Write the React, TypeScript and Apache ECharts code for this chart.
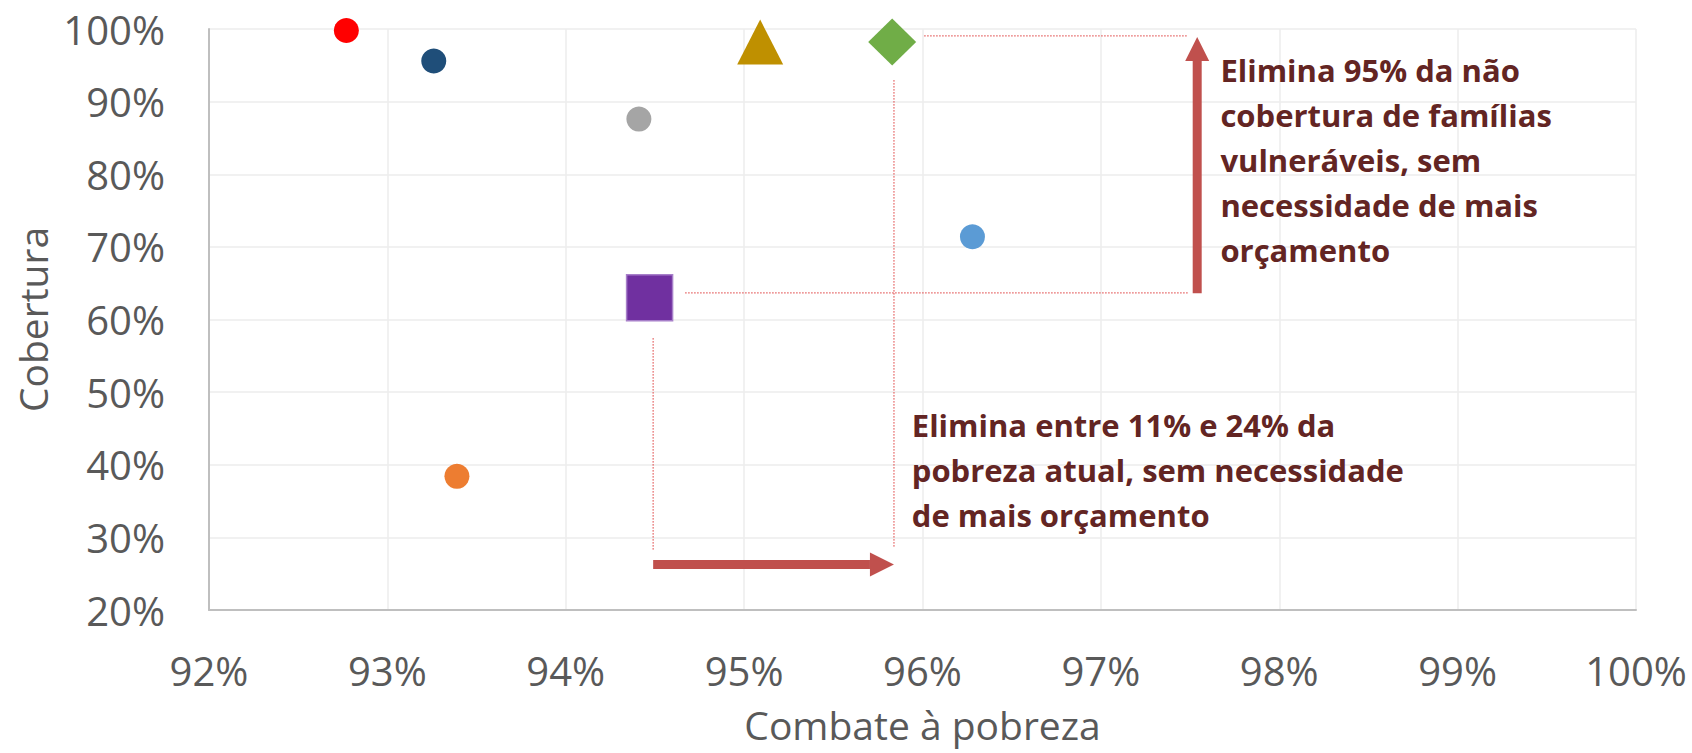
import React, { useEffect, useRef } from "react";
import * as echarts from "echarts";

// ---- Data (values in %) ----
const pointNames = ["Série 1", "Série 2", "Série 3", "Série 4", "Série 5", "Série 6", "Série 7", "Série 8"];
const combate = [92.77, 93.26, 94.41, 95.09, 95.83, 96.28, 94.47, 93.39];
const cobertura = [99.8, 95.6, 87.6, 98.2, 98.2, 71.4, 63.0, 38.4];

const xTicks = { min: 92, max: 100, step: 1 };
const yTicks = { min: 20, max: 100, step: 10 };

const xTitle = "Combate à pobreza";
const yTitle = "Cobertura";

// annotation geometry in data units
const arrowUp = [[97.54, 63.6], [97.54, 98.9]];
const arrowRight = [[94.49, 26.26], [95.84, 26.26]];
const guides = [
  [[94.67, 63.67], [97.49, 63.67]],
  [[96.01, 99.06], [97.49, 99.06]],
  [[95.84, 92.94], [95.84, 28.53]],
  [[94.49, 57.43], [94.49, 28.25]],
];
const note1Lines = [
  "Elimina 95% da não",
  "cobertura de famílias",
  "vulneráveis, sem",
  "necessidade de mais",
  "orçamento",
];
const note1At = [97.67, 97.41];
const note2Lines = [
  "Elimina entre 11% e 24% da",
  "pobreza atual, sem necessidade",
  "de mais orçamento",
];
const note2At = [95.94, 48.56];

// ---- Styles ----
const colors = ["#ff0000", "#1f4e79", "#a5a5a5", "#bf9000", "#70ad47", "#5b9bd5", "#7030a0", "#ed7d31"];
const symbols = ["circle", "circle", "circle", "triangle", "diamond", "circle", "rect", "circle"];
const symbolSizes: any[] = [25, 25, 25, [46, 45], [48, 47], 25, 46, 25];

const FONT = '"Open Sans", "Liberation Sans", sans-serif';
const labelColor = "#595959";

export default function App() {
  const ref = useRef<HTMLDivElement>(null);
  useEffect(() => {
    document.body.style.margin = "0";
    const chart = echarts.init(ref.current!, null, { renderer: "svg" });
    chart.setOption({
      animation: false,
      grid: { left: 209, right: 56, top: 29, bottom: 143 },
      xAxis: {
        type: "value",
        min: xTicks.min,
        max: xTicks.max,
        interval: xTicks.step,
        name: xTitle,
        nameLocation: "middle",
        nameGap: 95,
        nameTextStyle: { fontFamily: FONT, fontSize: 39, color: labelColor },
        axisLine: { show: true, onZero: false, lineStyle: { color: "#bfbfbf", width: 2 } },
        axisTick: { show: false },
        axisLabel: {
          formatter: (v: number) => `${v}%`,
          fontFamily: FONT,
          fontSize: 40,
          color: labelColor,
          margin: 40,
        },
        splitLine: { show: true, lineStyle: { color: "#ececec", width: 1.5 } },
      },
      yAxis: {
        type: "value",
        min: yTicks.min,
        max: yTicks.max,
        interval: yTicks.step,
        name: yTitle,
        nameLocation: "middle",
        nameGap: 155,
        nameTextStyle: { fontFamily: FONT, fontSize: 39, color: labelColor },
        axisLine: { show: true, onZero: false, lineStyle: { color: "#bfbfbf", width: 2 } },
        axisTick: { show: false },
        axisLabel: {
          formatter: (v: number) => `${v}%`,
          fontFamily: FONT,
          fontSize: 40,
          color: labelColor,
          margin: 44,
        },
        splitLine: { show: true, lineStyle: { color: "#ececec", width: 1.5 } },
      },
      series: pointNames.map((name, i) => ({
        name,
        type: "scatter",
        symbol: symbols[i],
        symbolSize: symbolSizes[i],
        itemStyle: {
          color: colors[i],
          borderColor: i === 6 ? "#a77fc9" : colors[i],
          borderWidth: i === 6 ? 1.5 : 0,
          opacity: 1,
        },
        z: 3,
        data: [[combate[i], cobertura[i]]],
      })),
    });

    const px = (p: number[]) => chart.convertToPixel({ gridIndex: 0 }, p) as number[];
    const graphics: any[] = [];

    guides.forEach(([a, b]) => {
      const A = px(a);
      const B = px(b);
      graphics.push({
        type: "line",
        silent: true,
        z: 10,
        shape: { x1: A[0], y1: A[1], x2: B[0], y2: B[1] },
        style: { stroke: "#e04848", lineWidth: 1.3, lineDash: [1.3, 1.7] },
      });
    });

    const arrowColor = "#c0504d";
    const makeArrow = (from: number[], to: number[]) => {
      const S = px(from);
      const T = px(to);
      const dx = T[0] - S[0];
      const dy = T[1] - S[1];
      const len = Math.hypot(dx, dy);
      const d = [dx / len, dy / len];
      const n = [-d[1], d[0]];
      const headLen = 24;
      const headHalf = 12;
      const shaftHalf = 4.5;
      const B = [T[0] - d[0] * headLen, T[1] - d[1] * headLen];
      graphics.push({
        type: "polygon",
        silent: true,
        z: 10,
        shape: {
          points: [
            [S[0] + n[0] * shaftHalf, S[1] + n[1] * shaftHalf],
            [B[0] + n[0] * shaftHalf, B[1] + n[1] * shaftHalf],
            [B[0] - n[0] * shaftHalf, B[1] - n[1] * shaftHalf],
            [S[0] - n[0] * shaftHalf, S[1] - n[1] * shaftHalf],
          ],
        },
        style: { fill: arrowColor },
      });
      graphics.push({
        type: "polygon",
        silent: true,
        z: 10,
        shape: {
          points: [
            [B[0] + n[0] * headHalf, B[1] + n[1] * headHalf],
            [T[0], T[1]],
            [B[0] - n[0] * headHalf, B[1] - n[1] * headHalf],
          ],
        },
        style: { fill: arrowColor },
      });
    };
    makeArrow(arrowUp[0], arrowUp[1]);
    makeArrow(arrowRight[0], arrowRight[1]);

    const makeNote = (lines: string[], at: number[]) => {
      const P = px(at);
      graphics.push({
        type: "text",
        silent: true,
        z: 10,
        x: P[0],
        y: P[1],
        style: {
          text: lines.join("\n"),
          fill: "#632523",
          fontFamily: FONT,
          fontWeight: "bold",
          fontSize: 31,
          lineHeight: 45,
          align: "left",
          verticalAlign: "top",
        },
      });
    };
    makeNote(note1Lines, note1At);
    makeNote(note2Lines, note2At);

    chart.setOption({ graphic: graphics });
    return () => chart.dispose();
  }, []);
  return <div ref={ref} style={{ width: 1692, height: 753 }} />;
}
